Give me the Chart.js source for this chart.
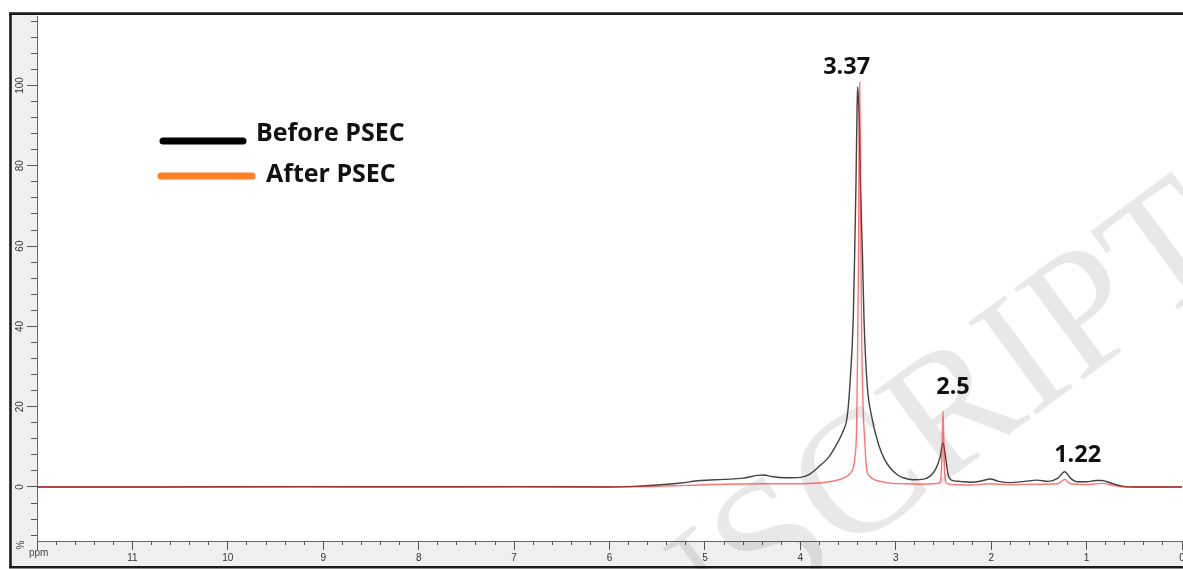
<!DOCTYPE html>
<html><head><meta charset="utf-8">
<script src="https://cdn.jsdelivr.net/npm/chart.js@4.4.0/dist/chart.umd.min.js"></script>
<style>html,body{margin:0;padding:0;background:#fff;overflow:hidden}#wrap{width:1183px;height:569px;position:relative}</style>
</head><body><div id="wrap"><canvas id="c" width="1183" height="569"></canvas></div>
<script>
// ---- data (ppm, intensity %) ----
const seriesNames = ['Before PSEC', 'After PSEC'];
const beforePpm = [12.0, 10.7, 9.2, 8.0, 7.0, 6.0, 5.8, 5.5, 5.25, 5.05, 4.8, 4.6, 4.45, 4.38, 4.3, 4.15, 4.0, 3.9, 3.79, 3.7, 3.62, 3.55, 3.51, 3.48, 3.445, 3.43, 3.417, 3.407, 3.40, 3.392, 3.383, 3.37, 3.35, 3.333, 3.30, 3.25, 3.18, 3.12, 3.06, 2.98, 2.92, 2.82, 2.72, 2.64, 2.58, 2.535, 2.505, 2.475, 2.45, 2.40, 2.33, 2.22, 2.10, 2.01, 1.92, 1.80, 1.65, 1.52, 1.40, 1.30, 1.23, 1.17, 1.10, 1.0, 0.90, 0.84, 0.75, 0.68, 0.60, 0.50, 0.0];
const beforeVal = [0, 0, 0.1, 0.05, 0.1, 0, 0.1, 0.5, 1.0, 1.6, 1.9, 2.2, 2.9, 3.0, 2.6, 2.3, 2.4, 3.2, 5.4, 7.5, 10.6, 14.0, 17.3, 25.6, 42.2, 58.8, 75.4, 92.0, 99.6, 97.0, 92.0, 75.0, 58.8, 42.0, 25.6, 17.3, 10.6, 7.0, 4.8, 3.0, 2.3, 1.8, 1.9, 2.7, 4.5, 7.5, 11.0, 7.0, 3.0, 1.6, 1.4, 1.2, 1.5, 2.0, 1.4, 1.1, 1.4, 1.7, 1.4, 2.2, 3.8, 2.2, 1.3, 1.3, 1.6, 1.6, 1.0, 0.5, 0.1, 0, 0];
const afterPpm = [12.0, 6.0, 5.6, 5.2, 4.8, 4.4, 4.0, 3.8, 3.65, 3.55, 3.48, 3.445, 3.425, 3.41, 3.40, 3.39, 3.385, 3.378, 3.372, 3.365, 3.355, 3.34, 3.33, 3.305, 3.27, 3.24, 3.10, 2.9, 2.75, 2.6, 2.54, 2.52, 2.505, 2.49, 2.47, 2.40, 2.2, 2.01, 1.8, 1.5, 1.30, 1.23, 1.17, 1.0, 0.84, 0.70, 0.58, 0.0];
const afterVal = [0, 0, 0.1, 0.4, 0.7, 0.8, 0.8, 1.0, 1.5, 2.2, 3.3, 4.8, 8.0, 15.0, 34.0, 58.8, 84.0, 100.8, 84.0, 58.8, 34.0, 18.0, 13.6, 4.5, 2.6, 2.0, 1.1, 0.8, 0.7, 0.8, 1.0, 4.7, 18.9, 4.7, 1.0, 0.6, 0.5, 0.8, 0.6, 0.7, 0.8, 1.9, 0.8, 0.6, 0.9, 0.3, 0, 0];
const peakLabels = ['3.37', '2.5', '1.22'];
const peakPpm = [3.378, 2.505, 1.23];
const peakVal = [100.8, 18.9, 3.8];
const xLabelValues = [0, 1, 2, 3, 4, 5, 6, 7, 8, 9, 10, 11];
const yLabelValues = [0, 20, 40, 60, 80, 100];
const axisUnits = ['ppm', '%'];
const watermarkText = 'ACCEPTED MANUSCRIPT';

// ---- styling / layout ----
const X_MIN = 0, X_MAX = 12, Y_MIN = -13.45, Y_MAX = 117.3;
const tickFont = {family: 'Liberation Sans', size: 10};
const labelOffsets = [[-13, -15], [10, -24], [13, -16]];

function pts(xs, ys) { return xs.map((x, i) => ({x: x, y: ys[i]})); }

const framePlugin = {
  id: 'frame',
  beforeDraw(chart) {
    const ctx = chart.ctx;
    const ca = chart.chartArea;
    ctx.save();
    ctx.fillStyle = '#fff';
    ctx.fillRect(0, 0, chart.width, chart.height);
    ctx.fillStyle = '#efefef';
    ctx.fillRect(11, 14, ca.left - 11, 567 - 14);
    ctx.fillRect(11, ca.bottom, chart.width - 11, 567 - ca.bottom);
    ctx.strokeStyle = '#1c1c1c';
    ctx.lineWidth = 2.6;
    ctx.beginPath();
    ctx.moveTo(10.5, 12.5); ctx.lineTo(10.5, 568);
    ctx.moveTo(9, 13.6); ctx.lineTo(chart.width, 13.6);
    ctx.moveTo(9, 567.3); ctx.lineTo(chart.width, 567.3);
    ctx.stroke();
    ctx.restore();
  },
  beforeDatasetsDraw(chart) {
    const ctx = chart.ctx;
    ctx.save();
    ctx.translate(1242, 262);
    ctx.rotate(-36.5 * Math.PI / 180);
    ctx.font = '175px "Liberation Serif"';
    ctx.fillStyle = 'rgba(0,0,0,0.09)';
    ctx.textAlign = 'right';
    ctx.textBaseline = 'alphabetic';
    ctx.fillText(watermarkText, 0, 0);
    ctx.restore();
  },
  afterDraw(chart) {
    const ctx = chart.ctx;
    const xs = chart.scales.x, ys = chart.scales.y;
    ctx.save();
    // peak labels
    ctx.font = 'bold 23.5px "Open Sans"';
    ctx.fillStyle = '#111';
    ctx.textAlign = 'center';
    ctx.textBaseline = 'middle';
    peakLabels.forEach((t, i) => {
      const px = xs.getPixelForValue(peakPpm[i]) + labelOffsets[i][0];
      const py = ys.getPixelForValue(peakVal[i]) + labelOffsets[i][1];
      ctx.fillText(t, px, py);
    });
    // legend
    const legendCols = ['#000000', '#ff7f27'];
    const legendLines = [[163, 243, 141], [161, 252, 176]];
    const legendText = [[256, 134], [266, 175]];
    ctx.lineCap = 'round';
    ctx.lineWidth = 7;
    seriesNames.forEach((n, i) => {
      ctx.strokeStyle = legendCols[i];
      ctx.beginPath();
      ctx.moveTo(legendLines[i][0], legendLines[i][2]);
      ctx.lineTo(legendLines[i][1], legendLines[i][2]);
      ctx.stroke();
      ctx.font = 'bold 25px "Open Sans"';
      ctx.fillStyle = '#111';
      ctx.textAlign = 'left';
      ctx.textBaseline = 'middle';
      ctx.fillText(n, legendText[i][0], legendText[i][1]);
    });
    // axis units
    ctx.font = '10px "Liberation Sans"';
    ctx.fillStyle = '#444';
    ctx.textAlign = 'left';
    ctx.textBaseline = 'middle';
    ctx.fillText(axisUnits[0], 29, 553);
    ctx.save();
    ctx.translate(21, 545);
    ctx.rotate(-Math.PI / 2);
    ctx.textAlign = 'center';
    ctx.fillText(axisUnits[1], 0, 0);
    ctx.restore();
    ctx.restore();
  }
};

new Chart(document.getElementById('c'), {
  type: 'line',
  data: {
    datasets: [
      {label: seriesNames[1], data: pts(afterPpm, afterVal), borderColor: 'rgba(255,30,30,0.62)', borderWidth: 1.4, pointRadius: 0, cubicInterpolationMode: 'monotone', order: 0},
      {label: seriesNames[0], data: pts(beforePpm, beforeVal), borderColor: 'rgba(45,45,45,0.9)', borderWidth: 1.4, pointRadius: 0, cubicInterpolationMode: 'monotone', order: 1}
    ]
  },
  options: {
    responsive: false,
    animation: false,
    devicePixelRatio: 1,
    layout: {padding: {left: 10, top: 16, right: 1, bottom: 2}},
    plugins: {legend: {display: false}, tooltip: {enabled: false}},
    scales: {
      x: {
        type: 'linear', reverse: true, min: X_MIN, max: X_MAX, position: 'bottom', weight: 0,
        grid: {drawOnChartArea: false, drawTicks: true, tickLength: 4, tickColor: '#555', tickWidth: 1},
        border: {display: true, color: '#666', width: 1},
        ticks: {display: false, stepSize: 0.2, includeBounds: false, maxTicksLimit: 1000},
        afterFit(s) { s.height = 0; s.paddingLeft = 0; s.paddingRight = 0; }
      },
      x2: {
        type: 'linear', reverse: true, min: X_MIN, max: X_MAX, position: 'bottom', weight: 1,
        grid: {drawOnChartArea: false, drawTicks: true, tickLength: 9, tickColor: '#555', tickWidth: 1},
        border: {display: false},
        ticks: {stepSize: 1, includeBounds: false, autoSkip: false, maxRotation: 0, minRotation: 0, padding: 2, color: '#333', font: tickFont,
          callback: (v) => xLabelValues.includes(v) ? String(v) : ''},
        afterFit(s) { s.height = 26; s.paddingLeft = 0; s.paddingRight = 0; }
      },
      y: {
        type: 'linear', min: Y_MIN, max: Y_MAX, position: 'left', weight: 0,
        grid: {drawOnChartArea: false, drawTicks: true, tickLength: 6, tickColor: '#555', tickWidth: 1},
        border: {display: true, color: '#666', width: 1},
        ticks: {display: false, stepSize: 4, includeBounds: false, maxTicksLimit: 1000},
        afterFit(s) { s.width = 0; s.paddingTop = 0; s.paddingBottom = 0; }
      },
      y2: {
        type: 'linear', min: Y_MIN, max: Y_MAX, position: 'left', weight: 1,
        grid: {drawOnChartArea: false, drawTicks: true, tickLength: 10, tickColor: '#555', tickWidth: 1},
        border: {display: false},
        ticks: {stepSize: 20, includeBounds: false, autoSkip: false, minRotation: 90, maxRotation: 90, crossAlign: 'center', padding: -2, color: '#333', font: tickFont,
          callback: (v) => yLabelValues.includes(v) ? String(v) : ''},
        afterFit(s) { s.width = 27; s.paddingTop = 0; s.paddingBottom = 0; }
      }
    }
  },
  plugins: [framePlugin]
});
</script>
</body></html>
